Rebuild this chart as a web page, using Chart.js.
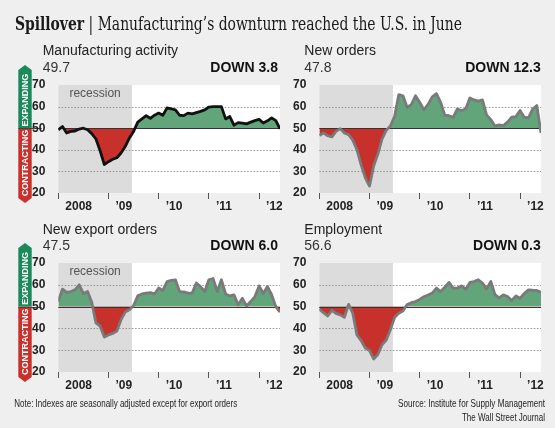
<!DOCTYPE html>
<html>
<head>
<meta charset="utf-8">
<script src="https://cdn.jsdelivr.net/npm/chart.js@4.4.1/dist/chart.umd.min.js"></script>
<style>
  html, body { margin: 0; padding: 0; background: #efefef; }
  #page { position: relative; width: 555px; height: 428px; overflow: hidden; }
  canvas { position: absolute; }
</style>
</head>
<body>
<div id="page">
  <canvas id="text" width="555" height="428" style="left:0;top:0"></canvas>
  <canvas id="c1" width="282" height="152" style="left:0;top:60px"></canvas>
  <canvas id="c2" width="273" height="152" style="left:282px;top:60px"></canvas>
  <canvas id="c3" width="282" height="152" style="left:0;top:239px"></canvas>
  <canvas id="c4" width="273" height="152" style="left:282px;top:239px"></canvas>
</div>
<script>
// monthly index values, Jan 2008 .. Jun 2012
const manufacturing = [49.2, 50.8, 47.8, 48.5, 48.7, 49.6, 50.0, 49.3, 47.5, 45.0,
  39.5, 33.2, 34.5, 35.6, 36.3, 38.5, 41.5, 45.5, 48.5, 52.8,
  54.3, 55.8, 54.6, 56.0, 57.0, 56.0, 59.4, 59.0, 58.5, 56.0,
  55.8, 57.0, 56.6, 57.2, 57.8, 58.5, 59.8, 60.0, 60.0, 60.0,
  54.3, 55.4, 51.4, 52.6, 52.3, 52.0, 52.8, 53.5, 54.1, 52.4,
  53.4, 54.8, 53.5, 49.7];
const newOrders = [46.6, 47.8, 46.5, 46.0, 48.5, 49.8, 47.8, 47.0, 44.5, 40.0,
  33.0, 27.0, 23.2, 32.5, 38.0, 45.0, 49.0, 51.0, 55.5, 65.5,
  65.0, 59.7, 60.9, 65.0, 62.0, 58.5, 61.0, 64.5, 66.0, 62.0,
  56.0, 55.8, 55.0, 58.9, 58.2, 58.9, 64.0, 63.1, 62.5, 63.1,
  56.0, 54.0, 51.0, 51.5, 51.2, 52.8, 55.1, 55.4, 58.2, 55.1,
  54.8, 58.9, 60.5, 47.8];
const exportOrders = [52.3, 58.0, 56.5, 56.9, 57.7, 60.0, 56.0, 56.9, 52.0, 42.5,
  41.0, 36.0, 37.0, 37.7, 38.8, 44.0, 47.5, 48.5, 50.5, 55.0,
  55.8, 56.2, 56.4, 55.8, 58.5, 57.4, 61.5, 62.0, 62.3, 56.9,
  56.8, 56.2, 56.2, 60.8, 59.2, 56.9, 62.3, 62.9, 56.9, 62.3,
  55.8, 54.9, 55.4, 50.8, 53.8, 50.3, 52.3, 54.6, 59.5, 56.0,
  59.2, 55.5, 50.0, 47.5];
const employment = [48.8, 47.2, 45.7, 48.3, 46.9, 46.2, 45.1, 51.0, 47.0, 37.0,
  34.4, 31.0, 29.8, 26.0, 28.0, 32.5, 34.6, 39.5, 45.0, 47.0,
  48.0, 51.0, 51.8, 52.3, 53.3, 54.5, 55.3, 56.2, 58.5, 56.9,
  58.9, 61.1, 58.5, 58.5, 59.5, 58.0, 61.1, 61.5, 62.3, 60.8,
  58.0, 61.5, 55.5, 54.0, 55.4, 54.6, 52.8, 54.9, 53.8, 56.0,
  57.7, 57.5, 57.4, 56.6];

const yearTicks = [0, 12, 24, 36, 48];   // month index of each January
const yearLabels = ['2008', '\u201909', '\u201910', '\u201911', '\u201912'];
const yTicks = [20, 30, 40, 50, 60, 70];
const dottedAt = [30, 40, 60];
const BASELINE = 50;
const RECESSION_END = 17.6;   // month index, mid-2009

const GREEN_FILL = '#62a57a';
const RED_FILL = '#c8302b';
const NARROW = '"Liberation Sans Narrow", "Arial Narrow", sans-serif';
const SANS = '"Liberation Sans", Arial, sans-serif';

// ---- page text ----
const t = document.getElementById('text').getContext('2d');
t.textBaseline = 'alphabetic';

function label(str, x, y, font, color, align) {
  t.font = font;
  t.fillStyle = color;
  t.textAlign = align || 'left';
  t.fillText(str, x, y);
}
function fitLabel(str, x, y, width, font, color, align) {
  t.save();
  t.font = font;
  t.fillStyle = color;
  const s = width / t.measureText(str).width;
  t.translate(align === 'right' ? x - width : x, y);
  t.scale(s, 1);
  t.textAlign = 'left';
  t.fillText(str, 0, 0);
  t.restore();
}

// headline: bold kicker + regular title, squeezed to the reference width
(function () {
  const serif = '"DejaVu Serif Condensed", "DejaVu Serif", serif';
  const a = 'Spillover', b = ' | Manufacturing\u2019s downturn reached the U.S. in June';
  t.save();
  t.font = 'bold 19px ' + serif;
  const wa = t.measureText(a).width;
  t.font = '19px ' + serif;
  const wb = t.measureText(b).width;
  const s = 447 / (wa + wb);
  t.translate(15, 30);
  t.scale(s, 1);
  t.fillStyle = '#1a1a1a';
  t.font = 'bold 19px ' + serif;
  t.fillText(a, 0, 0);
  t.font = '19px ' + serif;
  t.fillText(b, wa, 0);
  t.restore();
})();

label('Manufacturing activity', 42.7, 55, '14px ' + SANS, '#222');
label('49.7', 42.7, 71.7, '14px ' + SANS, '#333');
label('DOWN 3.8', 278, 71.7, 'bold 14px ' + SANS, '#111', 'right');

label('New orders', 304.3, 55, '14px ' + SANS, '#222');
label('47.8', 304.3, 71.7, '14px ' + SANS, '#333');
label('DOWN 12.3', 540.7, 71.7, 'bold 14px ' + SANS, '#111', 'right');

label('New export orders', 42.7, 233.5, '14px ' + SANS, '#222');
label('47.5', 42.7, 250, '14px ' + SANS, '#333');
label('DOWN 6.0', 278, 250, 'bold 14px ' + SANS, '#111', 'right');

label('Employment', 304.3, 233.5, '14px ' + SANS, '#222');
label('56.6', 304.3, 250, '14px ' + SANS, '#333');
label('DOWN 0.3', 540.7, 250, 'bold 14px ' + SANS, '#111', 'right');

fitLabel('Note: Indexes are seasonally adjusted except for export orders', 14.2, 406.5, 223, '10.3px ' + NARROW, '#222');
fitLabel('Source: Institute for Supply Management', 545, 406.5, 147, '10.3px ' + NARROW, '#222', 'right');
fitLabel('The Wall Street Journal', 545, 420.5, 83, '10.3px ' + NARROW, '#222', 'right');

// ---- expanding / contracting arrow ----
function drawArrow(ctx, a, y) {
  const x0 = a.left - 40, x1 = a.left - 26.6, cx = (x0 + x1) / 2;
  const top = a.top - 20, bot = a.bottom + 10, tip = 5;
  const mid = y.getPixelForValue(BASELINE);
  ctx.fillStyle = '#1b8a5a';
  ctx.beginPath();
  ctx.moveTo(cx, top); ctx.lineTo(x1, top + tip); ctx.lineTo(x1, mid);
  ctx.lineTo(x0, mid); ctx.lineTo(x0, top + tip); ctx.closePath(); ctx.fill();
  ctx.fillStyle = '#c8312c';
  ctx.beginPath();
  ctx.moveTo(x0, mid); ctx.lineTo(x1, mid); ctx.lineTo(x1, bot - tip);
  ctx.lineTo(cx, bot); ctx.lineTo(x0, bot - tip); ctx.closePath(); ctx.fill();
  ctx.strokeStyle = '#444';
  ctx.lineWidth = 1;
  ctx.beginPath();
  ctx.moveTo(x0, Math.round(mid) + 0.5); ctx.lineTo(x1 + 10, Math.round(mid) + 0.5);
  ctx.stroke();

  ctx.fillStyle = '#fff';
  ctx.font = 'bold 9px ' + SANS;
  ctx.textAlign = 'center';
  ctx.textBaseline = 'middle';
  ctx.save();
  ctx.translate(cx + 0.5, (top + tip + mid) / 2 + 1);
  ctx.rotate(-Math.PI / 2);
  ctx.fillText('EXPANDING', 0, 0);
  ctx.restore();
  ctx.save();
  ctx.translate(cx + 0.5, (mid + bot - tip) / 2);
  ctx.rotate(-Math.PI / 2);
  ctx.fillText('CONTRACTING', 0, 0);
  ctx.restore();
}

function panelPlugin(o) {
  return {
    id: 'panelDecor',
    beforeDraw(chart) {
      const { ctx, chartArea: a, scales: { x, y } } = chart;
      ctx.save();
      ctx.fillStyle = '#fff';
      ctx.fillRect(a.left, a.top, a.width, a.height);
      const rx = x.getPixelForValue(RECESSION_END);
      ctx.fillStyle = '#dcdcdc';
      ctx.fillRect(a.left, a.top, rx - a.left, a.height);
      if (o.recessionLabel) {
        ctx.fillStyle = '#555';
        ctx.font = '12px ' + NARROW;
        ctx.textAlign = 'center';
        ctx.textBaseline = 'middle';
        ctx.fillText('recession', (a.left + rx) / 2, a.top + 9);
      }
      if (o.arrow) drawArrow(ctx, a, y);
      ctx.restore();
    },
    beforeDatasetsDraw(chart) {
      // dotted gridlines, under the fill
      const { ctx, chartArea: a, scales: { y } } = chart;
      ctx.save();
      ctx.strokeStyle = '#999';
      ctx.lineWidth = 1;
      ctx.setLineDash([1.6, 1.6]);
      dottedAt.forEach(v => {
        const py = Math.round(y.getPixelForValue(v)) + 0.5;
        ctx.beginPath();
        ctx.moveTo(a.left, py);
        ctx.lineTo(a.right, py);
        ctx.stroke();
      });
      ctx.restore();
    },
    beforeDatasetDraw(chart) {
      // the 50 line sits over the fill but under the index line
      const { ctx, chartArea: a, scales: { y } } = chart;
      const py = Math.round(y.getPixelForValue(BASELINE)) + 0.5;
      ctx.save();
      ctx.strokeStyle = '#333';
      ctx.lineWidth = 1;
      ctx.beginPath();
      ctx.moveTo(a.left, py);
      ctx.lineTo(a.right, py);
      ctx.stroke();
      ctx.restore();
    }
  };
}

function makePanel(id, values, o) {
  const tickFont = { family: NARROW, weight: 'bold', size: 12 };
  new Chart(document.getElementById(id), {
    type: 'line',
    data: {
      datasets: [{
        data: values.map((v, i) => ({ x: i, y: v })),
        borderColor: o.line,
        borderWidth: 2.8,
        borderJoinStyle: 'round',
        pointRadius: 0,
        tension: 0,
        fill: { target: { value: BASELINE }, above: GREEN_FILL, below: RED_FILL }
      }]
    },
    options: {
      responsive: false,
      animation: false,
      events: [],
      layout: { padding: o.pad },
      plugins: {
        legend: { display: false },
        tooltip: { enabled: false },
        filler: { drawTime: 'beforeDatasetDraw' }
      },
      scales: {
        x: {
          type: 'linear',
          min: 0,
          max: values.length - 1,
          afterBuildTicks: s => { s.ticks = yearTicks.map(v => ({ value: v })); },
          afterFit: s => { s.height = 19; },
          grid: { drawOnChartArea: false, drawTicks: true, tickLength: 6, color: '#555', lineWidth: 1 },
          border: { display: false },
          ticks: {
            align: 'start',
            labelOffset: 7,
            padding: 0,
            autoSkip: false,
            maxRotation: 0,
            color: '#222',
            font: tickFont,
            callback: (v, i) => yearLabels[i]
          }
        },
        y: {
          min: 20,
          max: 70,
          afterBuildTicks: s => { s.ticks = yTicks.map(v => ({ value: v })); },
          afterFit: s => { s.width = 28; },
          grid: { display: false },
          border: { display: false },
          ticks: { padding: 5, color: '#222', font: tickFont }
        }
      }
    },
    plugins: [panelPlugin(o)]
  });
}

const padLeft = { left: 30.3, right: 2, bottom: 0 };
const padRight = { left: 9.3, right: 14, bottom: 0 };

makePanel('c1', manufacturing, { line: '#111', recessionLabel: true, arrow: true, pad: Object.assign({ top: 25 }, padLeft) });
makePanel('c2', newOrders, { line: '#7a7a7a', pad: Object.assign({ top: 25 }, padRight) });
makePanel('c3', exportOrders, { line: '#7a7a7a', recessionLabel: true, arrow: true, pad: Object.assign({ top: 24 }, padLeft) });
makePanel('c4', employment, { line: '#7a7a7a', pad: Object.assign({ top: 24 }, padRight) });
</script>
</body>
</html>
